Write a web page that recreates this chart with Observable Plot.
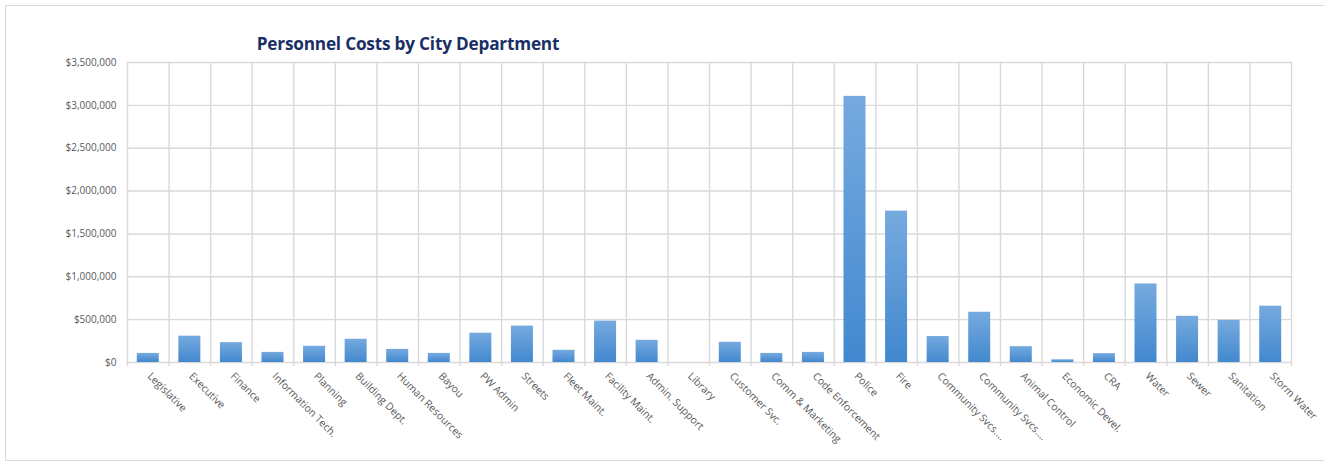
<!DOCTYPE html>
<html>
<head>
<meta charset="utf-8">
<script src="https://cdn.jsdelivr.net/npm/d3@7"></script>
<script src="https://cdn.jsdelivr.net/npm/@observablehq/plot@0.6"></script>
<style>
  html, body { margin: 0; padding: 0; background: #fff; }
  #wrap { position: relative; width: 1324px; height: 465px; overflow: hidden; font-family: "Open Sans", sans-serif; }
  #frame { position: absolute; left: 5px; top: 5px; width: 1330px; height: 456px; border: 1px solid #d9d9d9; box-sizing: border-box; }
  #title { position: absolute; left: 0; width: 816px; top: 32px; text-align: center; font-family: "Open Sans", sans-serif; font-weight: 700; font-size: 17.2px; color: #1a2f66; letter-spacing: -0.2px; }
  #chart { position: absolute; left: 0; top: 0; }
</style>
</head>
<body>
<div id="wrap">
  <div id="frame"></div>
  <div id="chart"></div>
  <div id="title">Personnel Costs by City Department</div>
</div>
<script>
// Department ids keep the two "Community Svcs." entries distinct on the band scale
const deptIds = [
  "Legislative", "Executive", "Finance", "Information Tech.", "Planning",
  "Building Dept.", "Human Resources", "Bayou", "PW Admin", "Streets",
  "Fleet Maint.", "Facility Maint.", "Admin. Support", "Library", "Customer Svc.",
  "Comm & Marketing", "Code Enforcement", "Police", "Fire", "Community Svcs. 1",
  "Community Svcs. 2", "Animal Control", "Economic Devel.", "CRA", "Water",
  "Sewer", "Sanitation", "Storm Water"
];

const deptLabels = [
  "Legislative", "Executive", "Finance", "Information Tech.", "Planning",
  "Building Dept.", "Human Resources", "Bayou", "PW Admin", "Streets",
  "Fleet Maint.", "Facility Maint.", "Admin. Support", "Library", "Customer Svc.",
  "Comm & Marketing", "Code Enforcement", "Police", "Fire", "Community Svcs.…",
  "Community Svcs.…", "Animal Control", "Economic Devel.", "CRA", "Water",
  "Sewer", "Sanitation", "Storm Water"
];

// Personnel cost per department, in dollars
const personnelCosts = [
  106000, 307000, 232000, 118000, 189000,
  271000, 153000, 106000, 342000, 425000,
  142000, 483000, 259000, 0, 236000,
  106000, 118000, 3105000, 1766000, 303000,
  586000, 185000, 32000, 103000, 916000,
  539000, 492000, 657000
];

const yTicks = [0, 500000, 1000000, 1500000, 2000000, 2500000, 3000000, 3500000];

const rows = deptIds.map((id, i) => ({id, label: deptLabels[i], cost: personnelCosts[i]}));
const labelOf = new Map(rows.map(r => [r.id, r.label]));

const W = 1324, H = 465;
const mL = 127, mR = 33, mT = 62, mB = 103;
const step = (W - mL - mR) / deptIds.length;
const barInset = (step - 22) / 2;

// per-bar vertical gradient, lighter at the top
const gradient = () => {
  const ns = "http://www.w3.org/2000/svg";
  const defs = document.createElementNS(ns, "defs");
  defs.innerHTML = `
    <linearGradient id="barFill" x1="0" y1="0" x2="0" y2="1">
      <stop offset="0" stop-color="#76aadf"/>
      <stop offset="1" stop-color="#4288cf"/>
    </linearGradient>`;
  return defs;
};

const chart = Plot.plot({
  width: W,
  height: H,
  marginLeft: mL,
  marginRight: mR,
  marginTop: mT,
  marginBottom: mB,
  style: {fontFamily: "'Open Sans', sans-serif", fontSize: "10px", color: "#595959", background: "transparent"},
  x: {domain: deptIds, padding: 0, round: false, label: null},
  y: {domain: [0, 3500000], label: null},
  marks: [
    gradient,
    Plot.ruleY(yTicks, {stroke: "#d9d9d9", strokeWidth: 1.4}),
    Plot.ruleX(deptIds, {x: d => d, dx: -step / 2, stroke: "#d9d9d9", strokeWidth: 1.4, insetBottom: -4}),
    Plot.ruleX(deptIds.slice(-1), {x: d => d, dx: step / 2, stroke: "#d9d9d9", strokeWidth: 1.4, insetBottom: -4}),
    Plot.barY(rows, {
      x: "id", y: "cost",
      fill: "url(#barFill)",
      insetLeft: barInset, insetRight: barInset,
      style: "filter: drop-shadow(0px 1px 1.2px rgba(0,0,0,0.35))"
    }),
    Plot.axisY({ticks: yTicks, tickSize: 0, tickPadding: 11, tickFormat: d3.format("$,"), fill: "#595959"}),
    Plot.axisX({tickSize: 0, tickPadding: 12, dx: 1, tickRotate: 45, tickFormat: d => labelOf.get(d), fill: "#595959", fontSize: 10.4})
  ]
});

document.getElementById("chart").appendChild(chart);
</script>
</body>
</html>
